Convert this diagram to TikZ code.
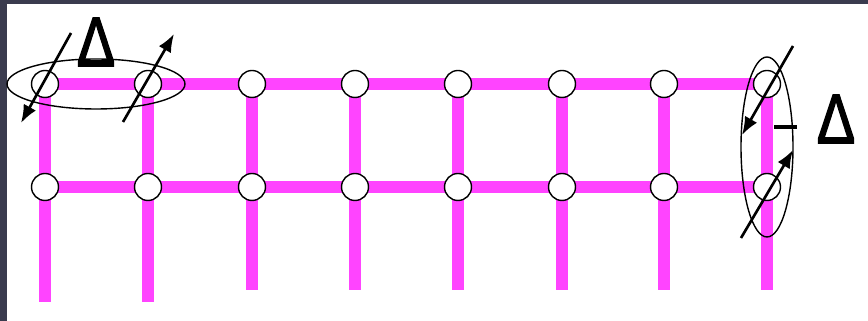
\documentclass[tikz,border=0pt]{standalone}
\usepackage{fontspec}
\setmainfont{Liberation Sans}
\newfontfamily\deltafont[FakeBold=2]{Liberation Sans}
\usetikzlibrary{arrows.meta,backgrounds}
\definecolor{roz}{HTML}{FF44FF}
\definecolor{rama}{HTML}{3A3B4E}

\begin{document}
\begin{tikzpicture}[x=0.1mm, y=-0.1mm, >={Latex[length=1.8mm,width=1.4mm]},
    nod/.style={circle, draw=black, line width=0.4pt, fill=white,
      minimum size=2.7mm, inner sep=0pt},
    bara/.style={roz, line width=3.5pt},
    sageata/.style={->, black, line width=0.75pt},
    inel/.style={black, line width=0.4pt},
    delta/.style={font=\deltafont\fontsize{20}{20}\selectfont, inner sep=0pt, xscale=0.82}]
  \useasboundingbox (0,0) rectangle (868,321);

  % Rama si fundal
  \begin{scope}[on background layer]
    \fill[rama] (0,0) rectangle (868,321);
    \fill[white] (7,4) rectangle (868,321);
  \end{scope}

  % Noduri -- doua randuri a cate opt
  \foreach \i/\x in {1/45,2/148,3/252,4/355,5/458,6/562,7/664,8/767} {
    \node[nod] (s\i) at (\x,84) {};
    \node[nod] (j\i) at (\x,187) {};
  }
  % Capete de jos ale barelor verticale
  \foreach \i/\x/\y in {1/45/302,2/148/302,3/252/290,4/355/290,
      5/458/290,6/562/290,7/664/290,8/767/290}
    \coordinate (c\i) at (\x,\y);

  % Bare roz, sub noduri
  \begin{scope}[on background layer]
    \foreach \i in {1,...,8}
      \draw[bara] (s\i.center) -- (c\i);
    \draw[bara] (s1.center) -- (s8.center);
    \draw[bara] (j1.center) -- (j8.center);
  \end{scope}

  % Inel sus, stanga
  \draw[inel] (96,84) ellipse (89 and 25);
  \node[delta] (dsus) at (96,42) {Δ};
  \coordinate (a1) at (71,33);
  \coordinate (a2) at (21,123);
  \coordinate (a3) at (123,122);
  \coordinate (a4) at (174,34);
  \draw[sageata] (a1) -- (a2);
  \draw[sageata] (a3) -- (a4);

  % Inel vertical, dreapta
  \draw[inel] (767,147) ellipse (26 and 90);
  \coordinate (b1) at (793,46);
  \coordinate (b2) at (742,135);
  \coordinate (b3) at (741,238);
  \coordinate (b4) at (793,150);
  \draw[sageata] (b1) -- (b2);
  \draw[sageata] (b3) -- (b4);
  \coordinate (m1) at (774,127);
  \coordinate (m2) at (797,127);
  \draw[black, line width=1.4pt] (m1) -- (m2);
  \node[delta] (ddr) at (836,119) {Δ};
\end{tikzpicture}
\end{document}
